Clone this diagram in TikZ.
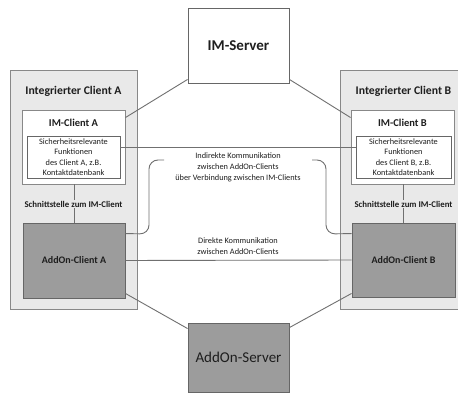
\documentclass[tikz,border=0pt]{standalone}
\usepackage{fontspec}
\setmainfont{Carlito}
\usetikzlibrary{calc}
\definecolor{outerfill}{HTML}{E9E9E9}
\definecolor{outerdraw}{HTML}{888888}
\definecolor{addfill}{HTML}{9C9C9C}
\definecolor{adddraw}{HTML}{666666}
\definecolor{linec}{HTML}{707070}
\definecolor{textc}{HTML}{1E1E1E}
\tikzset{
  outerbox/.style={draw=outerdraw, fill=outerfill, line width=1pt, inner sep=0pt},
  imbox/.style={draw=outerdraw, fill=white, line width=0.9pt, inner sep=0pt},
  secbox/.style={draw=adddraw, fill=white, line width=0.8pt, inner sep=0pt, align=center,
     font=\fontsize{8.3}{10.5}\selectfont, text=textc},
  addbox/.style={draw=adddraw, fill=addfill, line width=0.9pt, inner sep=0pt,
     font=\fontsize{10}{12}\selectfont\bfseries, text=textc},
  servbox/.style={draw=adddraw, line width=0.9pt, inner sep=0pt, text=textc},
  conn/.style={draw=linec, line width=0.9pt},
  lbl/.style={inner sep=1pt, align=center, text=textc, font=\fontsize{8.3}{11.3}\selectfont},
  titlelbl/.style={inner sep=0pt, text=textc, font=\fontsize{11.7}{14}\selectfont\bfseries},
  imlbl/.style={inner sep=0pt, text=textc, font=\fontsize{10.5}{12}\selectfont\bfseries},
  iflbl/.style={inner sep=1pt, fill=outerfill, text=textc, font=\fontsize{8.8}{10}\selectfont\bfseries},
}
\begin{document}
\begin{tikzpicture}[x=1pt,y=-1pt]
\useasboundingbox (0,0) rectangle (458,395);
\clip (0,0) rectangle (458,395);
\fill[white] (0,0) rectangle (458,395);
% servers
\node[servbox, fill=white, minimum width=101pt, minimum height=75pt,
  font=\fontsize{15}{17}\selectfont\bfseries] (ims) at (238.5,45.5) {IM-Server};
\node[servbox, fill=addfill, minimum width=101pt, minimum height=69pt,
  font=\fontsize{15}{17}\selectfont] (ads) at (238.5,357.5) {AddOn-Server};
% outer boxes
\node[outerbox, minimum width=127pt, minimum height=239pt] (outA) at (73.5,190.5) {};
\node[outerbox, minimum width=127pt, minimum height=239pt] (outB) at (403.5,190.5) {};
\node[titlelbl] (titA) at (73.5,91) {Integrierter Client A};
\node[titlelbl] (titB) at (403.5,91) {Integrierter Client B};
% IM clients
\node[imbox, minimum width=103pt, minimum height=74pt] (imA) at (73.5,147) {};
\node[imbox, minimum width=103pt, minimum height=74pt] (imB) at (402.5,147) {};
\node[imlbl] (imAl) at (73.5,123) {IM-Client A};
\node[imlbl] (imBl) at (402.5,123) {IM-Client B};
\node[secbox, minimum width=93pt, minimum height=42pt] (secA) at (73.5,157)
  {Sicherheitsrelevante\\Funktionen\\des Client A, z.B.\\Kontaktdatenbank};
\node[secbox, minimum width=95pt, minimum height=42pt] (secB) at (403.5,157)
  {Sicherheitsrelevante\\Funktionen\\des Client B, z.B.\\Kontaktdatenbank};
% AddOn clients
\node[addbox, minimum width=102pt, minimum height=75pt] (addA) at (74,260.5) {AddOn-Client A};
\node[addbox, minimum width=103pt, minimum height=74pt] (addB) at (403.5,260) {AddOn-Client B};
% interfaces
\draw[conn] (imA.south -| addA.north) -- (addA.north);
\draw[conn] (imB.south -| addB.north) -- (addB.north);
\node[iflbl] (ifA) at (73.5,204) {Schnittstelle zum IM-Client};
\node[iflbl] (ifB) at (403.5,204) {Schnittstelle zum IM-Client};
% server connections
\draw[conn] ($(ims.south west)+(0,-4)$) -- ($(imA.north east)+(0,8)$);
\draw[conn] ($(ims.south east)+(0,-4)$) -- ($(imB.north west)+(0,8)$);
\draw[conn] ($(addA.south east)+(0,-5)$) -- ($(ads.north west)+(0,6)$);
\draw[conn] ($(addB.south west)+(0,-4)$) -- ($(ads.north east)+(0,5)$);
% IM connection
\draw[conn] ($(secA.east)+(0,-10)$) -- ($(secB.west)+(0,-10)$);
% indirect brackets
\coordinate (brA) at (164,160);
\coordinate (brB) at (312,160);
\draw[conn, rounded corners=9pt] ($(addA.north east)+(0,11)$) -- (149,234) -- (149,160) -- (brA);
\draw[conn, rounded corners=9pt] ($(addB.north west)+(0,11)$) -- (326,234) -- (326,160) -- (brB);
\node[lbl] (ind) at (238,167.5) {Indirekte Kommunikation\\zwischen AddOn-Clients\\über Verbindung zwischen IM-Clients};
% direct
\draw[conn] (addA.east) -- (addB.west);
\node[lbl] (dir) at (238,246) {Direkte Kommunikation\\zwischen AddOn-Clients};
\end{tikzpicture}
\end{document}
